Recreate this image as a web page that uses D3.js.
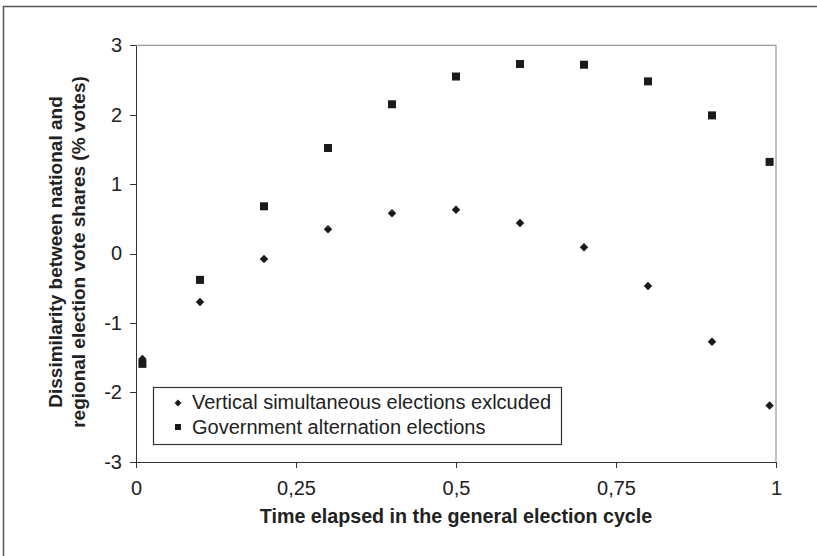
<!DOCTYPE html>
<html lang="en">
<head>
    <meta charset="UTF-8">
    <title>d3</title>
    <script src="https://cdn.jsdelivr.net/npm/d3@7"></script>
    <style>
        body { margin: 0; background: #fff; }
        .axis path, .axis line { fill: none; stroke: #333; shape-rendering: crispEdges; }
        .axis text { font-family: "Liberation Sans", Arial, sans-serif; font-size: 20px; fill: #222; }
        .title { font-family: "Liberation Sans", Arial, sans-serif; font-size: 19px; font-weight: bold; fill: #222; }
        .legend text { font-family: "Liberation Sans", Arial, sans-serif; font-size: 20px; fill: #222; }
    </style>
</head>
<body>
<script>
    // data
    const xVals = [0.01, 0.1, 0.2, 0.3, 0.4, 0.5, 0.6, 0.7, 0.8, 0.9, 0.99]
    const vertical = [-1.52, -0.70, -0.08, 0.35, 0.58, 0.63, 0.44, 0.09, -0.47, -1.27, -2.19]
    const alternation = [-1.59, -0.38, 0.68, 1.52, 2.15, 2.55, 2.73, 2.72, 2.48, 1.99, 1.32]
    const xTicks = [0, 0.25, 0.5, 0.75, 1]
    const xTickLabels = ['0', '0,25', '0,5', '0,75', '1']
    const yTicks = [-3, -2, -1, 0, 1, 2, 3]
    const seriesNames = ['Vertical simultaneous elections exlcuded', 'Government alternation elections']

    const width = 817
    const height = 556
    const mLeft = 136, mRight = 776, mTop = 45.3, mBottom = 461.7

    const svg = d3.select('body').append('svg').attr('width', width).attr('height', height)

    // outer frame (only top and left visible)
    svg.append('rect')
        .attr('x', 3.5).attr('y', 6.5)
        .attr('width', width + 10).attr('height', height + 10)
        .attr('fill', 'none').attr('stroke', '#555').attr('stroke-width', 1.5)

    const x = d3.scaleLinear().domain([0, 1]).range([mLeft, mRight])
    const y = d3.scaleLinear().domain([-3, 3]).range([mBottom, mTop])

    // plot area top / right border
    svg.append('path')
        .attr('d', `M${mLeft},${mTop}H${mRight}V${mBottom}`)
        .attr('fill', 'none').attr('stroke', '#999').attr('stroke-width', 1.2)

    const xAxis = d3.axisBottom(x).tickValues(xTicks)
        .tickFormat((d, i) => xTickLabels[i]).tickSize(6).tickSizeOuter(0).tickPadding(13)
    const yAxis = d3.axisLeft(y).tickValues(yTicks)
        .tickFormat(d => String(d)).tickSize(6).tickSizeOuter(0).tickPadding(8)

    svg.append('g').attr('class', 'axis')
        .attr('transform', 'translate(0,' + mBottom + ')')
        .call(xAxis)
    svg.append('g').attr('class', 'axis')
        .attr('transform', 'translate(' + mLeft + ',0)')
        .call(yAxis)

    // markers
    const diamond = d3.symbol().type(d3.symbolDiamond2).size(46)
    svg.selectAll('.dia')
        .data(xVals.map((d, i) => [d, vertical[i]]))
        .enter()
        .append('path')
        .attr('class', 'dia')
        .attr('d', diamond)
        .attr('transform', d => 'translate(' + x(d[0]) + ',' + y(d[1]) + ')')
        .attr('fill', '#1a1a1a')

    svg.selectAll('.sq')
        .data(xVals.map((d, i) => [d, alternation[i]]))
        .enter()
        .append('rect')
        .attr('class', 'sq')
        .attr('x', d => x(d[0]) - 4)
        .attr('y', d => y(d[1]) - 4)
        .attr('width', 8)
        .attr('height', 8)
        .attr('fill', '#1a1a1a')

    // titles
    svg.append('text').attr('class', 'title')
        .attr('x', 456).attr('y', 523)
        .attr('text-anchor', 'middle')
        .style('font-size', '19.7px')
        .text('Time elapsed in the general election cycle')

    const yt = svg.append('text').attr('class', 'title')
        .attr('transform', 'translate(0,252) rotate(-90)')
        .attr('text-anchor', 'middle')
    yt.append('tspan').attr('x', 0).attr('y', 62).text('Dissimilarity between national and')
    yt.append('tspan').attr('x', 0).attr('y', 85).text('regional election vote shares (% votes)')

    // legend
    const lg = svg.append('g').attr('class', 'legend')
    lg.append('rect')
        .attr('x', 153.5).attr('y', 387.5)
        .attr('width', 408).attr('height', 57)
        .attr('fill', '#fff').attr('stroke', '#333').attr('stroke-width', 1.2)
    lg.append('path')
        .attr('d', d3.symbol().type(d3.symbolDiamond2).size(30))
        .attr('transform', 'translate(178,403)')
        .attr('fill', '#1a1a1a')
    lg.append('rect')
        .attr('x', 175).attr('y', 424).attr('width', 6).attr('height', 6)
        .attr('fill', '#1a1a1a')
    lg.selectAll('text')
        .data(seriesNames)
        .enter()
        .append('text')
        .attr('x', 192)
        .attr('y', (d, i) => 409 + i * 25)
        .text(d => d)
</script>
</body>
</html>
